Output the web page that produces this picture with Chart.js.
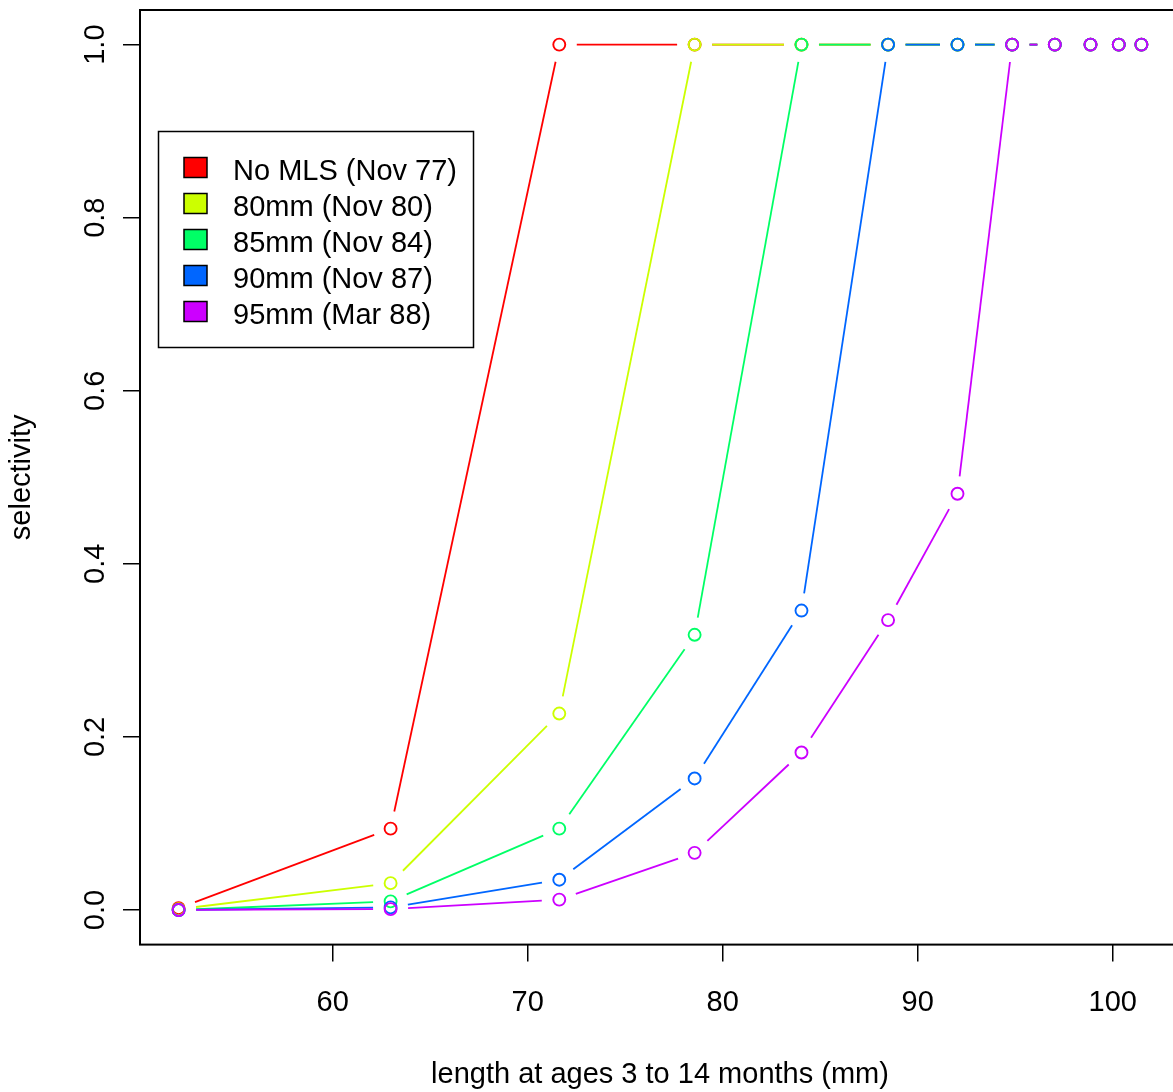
<!DOCTYPE html>
<html>
<head>
<meta charset="utf-8">
<script src="https://cdn.jsdelivr.net/npm/chart.js@4.4.1/dist/chart.umd.min.js"></script>
<style>
  html, body { margin: 0; padding: 0; background: #fff; overflow: hidden; }
  #wrap { width: 1173px; height: 1092px; overflow: hidden; }
</style>
</head>
<body>
<div id="wrap"><canvas id="grafico" width="1200" height="1092"></canvas></div>
<script>
// lengths at ages 3..14 months (mm)
const lengthMM = [52.10, 62.97, 71.62, 78.56, 84.04, 88.48, 92.04, 94.84, 97.03, 98.86, 100.31, 101.47];

const selNoMLS = [0.002, 0.094, 1, 1, 1, 1, 1, 1, 1, 1, 1, 1];
const sel80mm  = [0.001, 0.031, 0.227, 1, 1, 1, 1, 1, 1, 1, 1, 1];
const sel85mm  = [0, 0.010, 0.094, 0.318, 1, 1, 1, 1, 1, 1, 1, 1];
const sel90mm  = [0, 0.003, 0.035, 0.152, 0.346, 1, 1, 1, 1, 1, 1, 1];
const sel95mm  = [0, 0.001, 0.012, 0.066, 0.182, 0.335, 0.481, 1, 1, 1, 1, 1];

const seriesNames = ['No MLS (Nov 77)', '80mm (Nov 80)', '85mm (Nov 84)', '90mm (Nov 87)', '95mm (Mar 88)'];
const seriesValues = [selNoMLS, sel80mm, sel85mm, sel90mm, sel95mm];
const seriesColors = ['#FF0000', '#CCFF00', '#00FF66', '#0066FF', '#CC00FF'];

const xTickValues = [60, 70, 80, 90, 100];
const yTickValues = [0, 0.2, 0.4, 0.6, 0.8, 1.0];

const FONT = "'Liberation Sans', Arial, Helvetica, sans-serif";
const FSIZE = 29;
Chart.defaults.font.family = FONT;
Chart.defaults.font.size = FSIZE;
Chart.defaults.color = '#000';

// lines with a gap round each point, like type = "b"
const gapLines = {
  id: 'gapLines',
  beforeDatasetDraw(chart, args) {
    const ctx = chart.ctx;
    const pts = args.meta.data;
    const gap = 17.5;
    ctx.save();
    ctx.strokeStyle = chart.data.datasets[args.index].borderColor;
    ctx.lineWidth = 1.8;
    for (let i = 0; i < pts.length - 1; i++) {
      const a = pts[i], b = pts[i + 1];
      const dx = b.x - a.x, dy = b.y - a.y;
      const d = Math.hypot(dx, dy);
      if (d - 2 * gap < 1) continue;
      const ux = dx / d, uy = dy / d;
      ctx.beginPath();
      ctx.moveTo(a.x + ux * gap, a.y + uy * gap);
      ctx.lineTo(b.x - ux * gap, b.y - uy * gap);
      ctx.stroke();
    }
    ctx.restore();
  }
};

// frame, rotated y labels and the legend box
const frame = {
  id: 'frame',
  afterDraw(chart) {
    const ctx = chart.ctx;
    const a = chart.chartArea;
    const y = chart.scales.y;
    ctx.save();
    ctx.strokeStyle = '#000';
    ctx.lineWidth = 2;
    ctx.strokeRect(a.left, a.top, a.right - a.left, a.bottom - a.top);

    ctx.font = FSIZE + 'px ' + FONT;
    ctx.fillStyle = '#000';
    ctx.textAlign = 'center';
    ctx.textBaseline = 'middle';
    yTickValues.forEach(v => {
      ctx.save();
      ctx.translate(96, y.getPixelForValue(v));
      ctx.rotate(-Math.PI / 2);
      ctx.fillText(v.toFixed(1), 0, 0);
      ctx.restore();
    });

    // legend
    ctx.lineWidth = 1.5;
    ctx.strokeRect(158.5, 131.5, 315, 216);
    ctx.textAlign = 'left';
    chart.data.datasets.forEach((ds, i) => {
      const cy = 167.5 + i * 36;
      ctx.fillStyle = ds.borderColor;
      ctx.fillRect(184, cy - 10, 23, 20);
      ctx.strokeStyle = '#000';
      ctx.strokeRect(184, cy - 10, 23, 20);
      ctx.fillStyle = '#000';
      ctx.fillText(ds.label, 233, cy + 4);
    });
    ctx.restore();
  }
};

const datasets = seriesNames.map((nome, i) => ({
  label: nome,
  data: lengthMM.map((x, j) => ({ x: x, y: seriesValues[i][j] })),
  borderColor: seriesColors[i],
  pointBorderColor: seriesColors[i],
  pointBackgroundColor: 'rgba(0,0,0,0)',
  pointRadius: 6,
  pointBorderWidth: 1.9,
  showLine: false,
  order: seriesNames.length - i
}));

new Chart(document.getElementById('grafico').getContext('2d'), {
  type: 'line',
  data: { datasets: datasets },
  options: {
    responsive: false,
    animation: false,
    devicePixelRatio: 1,
    layout: { padding: { left: 0, top: 10, right: 20, bottom: 0 } },
    plugins: { legend: { display: false }, tooltip: { enabled: false } },
    scales: {
      x: {
        type: 'linear',
        min: 50.12,
        max: 103.45,
        afterBuildTicks: s => { s.ticks = xTickValues.map(v => ({ value: v })); },
        afterFit: s => { s.height = 147.4; },
        grid: { drawOnChartArea: false, drawTicks: true, tickLength: 17, color: '#000', lineWidth: 1.5 },
        border: { display: false },
        ticks: { padding: 24, maxRotation: 0, autoSkip: false, font: { size: FSIZE } },
        title: { display: true, text: 'length at ages 3 to 14 months (mm)', font: { size: FSIZE }, padding: { top: 0, bottom: 0 } }
      },
      y: {
        type: 'linear',
        min: -0.04,
        max: 1.04,
        afterBuildTicks: s => { s.ticks = yTickValues.map(v => ({ value: v })); },
        afterFit: s => { s.width = 140; },
        grid: { drawOnChartArea: false, drawTicks: true, tickLength: 17, color: '#000', lineWidth: 1.5 },
        border: { display: false },
        ticks: { display: false },
        title: { display: true, text: 'selectivity', font: { size: FSIZE }, padding: { top: 5, bottom: 0 } }
      }
    }
  },
  plugins: [gapLines, frame]
});
</script>
</body>
</html>
